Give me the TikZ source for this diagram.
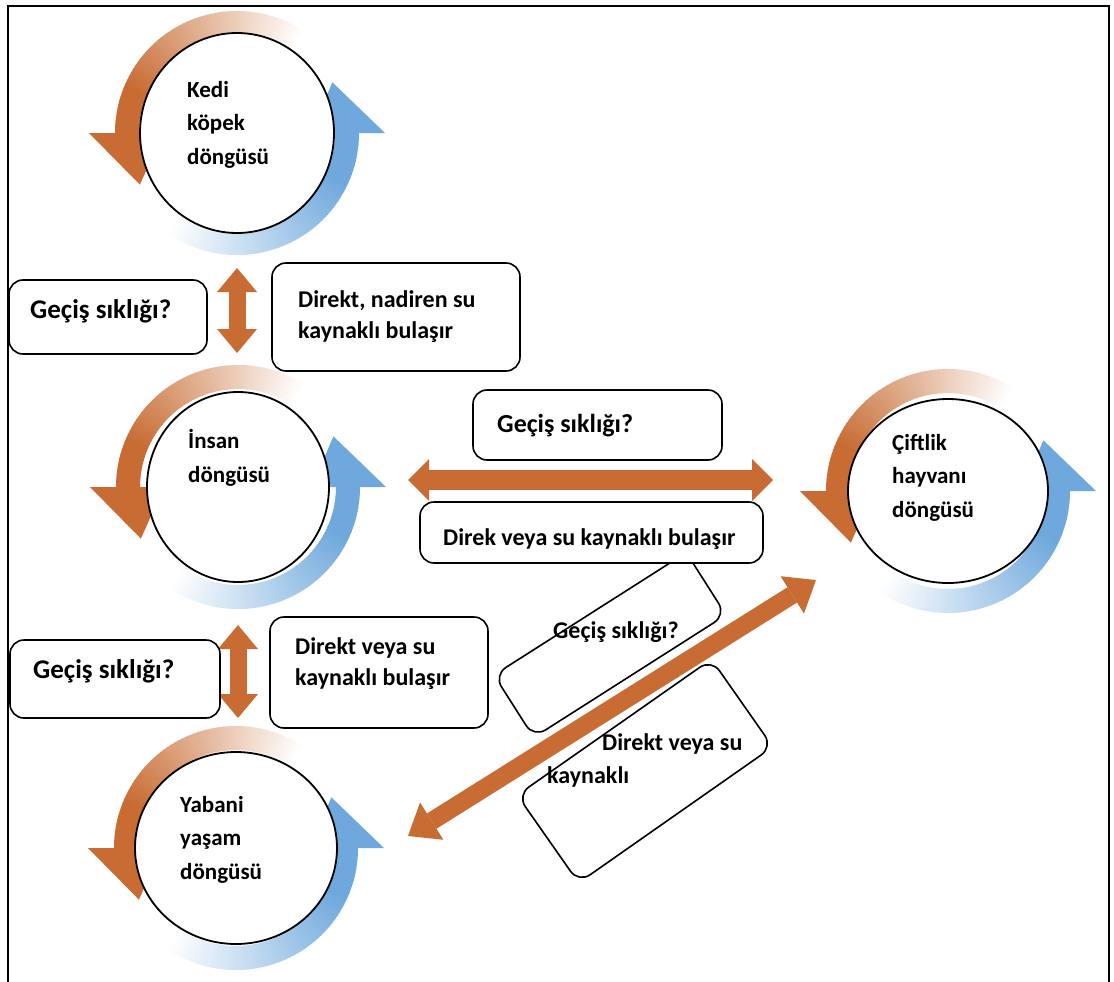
\documentclass[tikz,border=0pt]{standalone}
\usepackage{fontspec}
\setmainfont{Carlito}
\usetikzlibrary{arrows.meta,shapes.geometric}
\definecolor{orng}{RGB}{200,108,52}
\definecolor{blu}{RGB}{110,168,220}
\newcommand{\cycring}[1]{%
 \begin{scope}[shift={(#1)}]
  \foreach \a in {56,58,...,178}{%
    \pgfmathtruncatemacro\p{min(100,max(0,(\a-56)*100/(155-56)))}%
    \fill[orng!\p!white] (\a:98) arc[start angle=\a,end angle=\a+2.6,radius=98] -- (\a+2.6:122) arc[start angle=\a+2.6,end angle=\a,radius=122] -- cycle;}
  \fill[orng] (180:74) -- (180:148) -- (208:110) -- cycle;
  \foreach \a in {-126,-124,...,-2}{%
    \pgfmathtruncatemacro\p{min(100,max(0,(\a+126)*100/(126-25)))}%
    \fill[blu!\p!white] (\a:98) arc[start angle=\a,end angle=\a+2.6,radius=98] -- (\a+2.6:122) arc[start angle=\a+2.6,end angle=\a,radius=122] -- cycle;}
  \fill[blu] (0:74) -- (0:148) -- (28:108) -- cycle;
 \end{scope}}
\begin{document}
\begin{tikzpicture}[x=1pt,y=1pt,
  cyc/.style={ellipse,draw=black,line width=1.8pt,fill=white,inner sep=0pt},
  box/.style={draw=black,line width=1.6pt,fill=white,rounded corners=14pt,inner sep=0pt},
  ctxt/.style={font=\bfseries\fontsize{23}{33.5}\selectfont,align=left,anchor=base west,inner sep=0pt},
  btxt/.style={font=\bfseries\fontsize{24}{31}\selectfont,align=left,anchor=base west,inner sep=0pt},
  gtxt/.style={font=\bfseries\fontsize{27}{31}\selectfont,align=left,anchor=base west,inner sep=0pt},
  varrow/.style={draw=orng,line width=17pt,{Triangle[length=24pt,width=40pt,line width=0pt]}-{Triangle[length=24pt,width=40pt,line width=0pt]}},
  harrow/.style={draw=orng,line width=20pt,{Triangle[length=21pt,width=42pt,line width=0pt]}-{Triangle[length=21pt,width=42pt,line width=0pt]}},
  darrow/.style={draw=orng,line width=18pt,{Triangle[length=28pt,width=44pt,line width=0pt]}-{Triangle[length=28pt,width=44pt,line width=0pt]}}
]
\useasboundingbox (0,0) rectangle (1114,-982);
\fill[white] (0,0) rectangle (1114,-982);
% frame
\draw[line width=2.5pt] (8,-990) -- (8,-6) -- (1109,-6) -- (1109,-990);

% cycle centres
\coordinate (kc) at (237,-133);
\coordinate (ic) at (238,-487);
\coordinate (cc) at (948,-491);
\coordinate (yc) at (236,-848);

\cycring{kc}
\cycring{ic}
\cycring{cc}
\cycring{yc}

\node[cyc,minimum width=194pt,minimum height=200pt] (kedi) at (kc) {};
\node[cyc,minimum width=182pt,minimum height=190pt] (insan) at (ic) {};
\node[cyc,minimum width=200pt,minimum height=184pt] (ciftlik) at (cc) {};
\node[cyc,minimum width=202pt,minimum height=192pt] (yabani) at (yc) {};

% multi-line nodes: base anchor = last line baseline
\node[ctxt] (kedit) at (187,-164) {Kedi\\köpek\\döngüsü};
\node[ctxt] (insant) at (188,-482) {İnsan\\döngüsü};
\node[ctxt] (ciftlikt) at (892,-517) {Çiftlik\\hayvanı\\döngüsü};
\node[ctxt] (yabanit) at (180,-879) {Yabani\\yaşam\\döngüsü};

% connectors
\draw[varrow] ([shift={(0,-135)}]kedi.center) -- ([shift={(-1,134)}]insan.center);
\draw[varrow] ([shift={(0,-138)}]insan.center) -- ([shift={(2,130)}]yabani.center);
\draw[harrow] ([shift={(170,7)}]insan.center) -- ([shift={(-175,11)}]ciftlik.center);
\draw[darrow] ([shift={(172,12)}]yabani.center) -- ([shift={(-132,-89)}]ciftlik.center);

% tilted boxes
\node[box,rotate=32.5,minimum width=228pt,minimum height=74pt] (t1) at (610,-645) {};
\node[box,rotate=35,minimum width=237pt,minimum height=107pt] (t2) at (645,-771) {};
\node[btxt] (t1t) at (553,-638) {Geçiş sıklığı?};
\node[btxt,font=\bfseries\fontsize{24}{33}\selectfont] (t2t) at (547,-783) {\hspace*{55pt}Direkt veya su\\kaynaklı};

% straight boxes
\node[box,minimum width=198pt,minimum height=74pt] (b1) at (108,-317) {};
\node[box,minimum width=248pt,minimum height=108pt] (b2) at (396,-317) {};
\node[box,minimum width=249pt,minimum height=70pt] (b3) at (597.5,-425) {};
\node[box,minimum width=343pt,minimum height=61pt] (b4) at (591.5,-532.5) {};
\node[box,minimum width=210pt,minimum height=78pt] (b5) at (115,-679) {};
\node[box,minimum width=218pt,minimum height=111pt] (b6) at (379,-672.5) {};

\node[gtxt] (b1t) at (30,-318) {Geçiş sıklığı?};
\node[btxt] (b2t) at (298,-338) {Direkt, nadiren su\\kaynaklı bulaşır};
\node[gtxt,font=\bfseries\fontsize{26}{31}\selectfont] (b3t) at (497,-432) {Geçiş sıklığı?};
\node[btxt] (b4t) at (443,-545) {Direk veya su kaynaklı bulaşır};
\node[gtxt] (b5t) at (33,-678) {Geçiş sıklığı?};
\node[btxt] (b6t) at (295,-685) {Direkt veya su\\kaynaklı bulaşır};
\end{tikzpicture}
\end{document}
